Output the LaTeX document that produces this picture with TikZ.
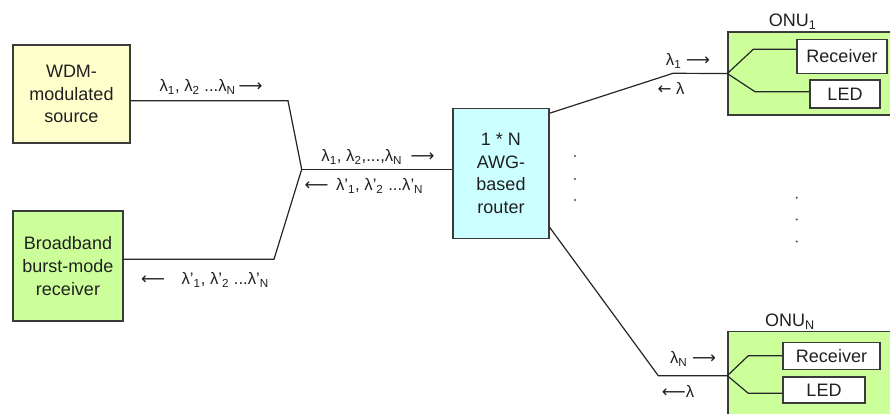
\documentclass[tikz,border=0pt]{standalone}
\usepackage{fontspec}
\setmainfont{Liberation Sans}
\newfontfamily\arrowfont{DejaVu Sans}
\usepackage{xcolor}
\usepackage{tikz}
\usetikzlibrary{arrows.meta,positioning}
\definecolor{SourceBG}  {HTML}{FFFFCC}
\definecolor{GreenBG}   {HTML}{CCFF99}
\definecolor{RouterBG}  {HTML}{CCFFFF}
\definecolor{EdgeGray}  {HTML}{3A3A3A}
\definecolor{LabelText} {HTML}{202020}
\newcommand{\lam}[1]{λ\textsubscript{#1}}
\newcommand{\lamp}[1]{λ'\textsubscript{#1}}
\newcommand{\toR}{{\arrowfont ⟶}}
\newcommand{\toL}{{\arrowfont ⟵}}
\tikzset{
  unitbox/.style={draw=EdgeGray,line width=1pt,align=center,inner sep=0pt,
    font=\fontsize{13.5}{17}\selectfont,text=LabelText},
  partbox/.style={draw=EdgeGray,line width=1pt,fill=white,inner sep=0pt,
    font=\fontsize{13.5}{16}\selectfont,text=LabelText},
  fibre/.style={draw=black!85,line width=0.9pt},
  wavelbl/.style={font=\fontsize{12.5}{15}\selectfont,text=LabelText,inner sep=0pt},
  dotmark/.style={fill=black!70,draw=none}
}
\begin{document}
\begin{tikzpicture}[x=0.75pt,y=-0.75pt]
  \clip (0,0) rectangle (890,414);
  \fill[white] (0,0) rectangle (890,414);

  % head end
  \node[unitbox,fill=SourceBG,minimum width=87.75pt,minimum height=73.5pt]
    (wdm) at (71.5,94) {WDM-\\modulated\\source};
  \node[unitbox,fill=GreenBG,minimum width=82.5pt,minimum height=82.5pt]
    (rx) at (68,266) {Broadband\\burst-mode\\receiver};
  \node[unitbox,fill=RouterBG,minimum width=72pt,minimum height=97.5pt]
    (router) at (501,173.3) {1 * N\\AWG-\\based\\router};

  % ONUs
  \node[unitbox,fill=GreenBG,minimum width=123pt,minimum height=62.25pt]
    (onuA) at (810,73.5) {};
  \node[above=1pt of onuA.north,xshift=-13pt,wavelbl,font=\fontsize{13.5}{16}\selectfont]
    (onuAname) {ONU\textsubscript{1}};
  \node[partbox,minimum width=67.5pt,minimum height=25.5pt]
    (rcvA) at (842,56.3) {Receiver};
  \node[partbox,minimum width=52.5pt,minimum height=21pt]
    (ledA) at (845,94) {LED};

  \node[unitbox,fill=GreenBG,minimum width=123pt,minimum height=66pt]
    (onuB) at (810,375.7) {};
  \node[above=1pt of onuB.north,xshift=-15pt,wavelbl,font=\fontsize{13.5}{16}\selectfont]
    (onuBname) {ONU\textsubscript{N}};
  \node[partbox,minimum width=72.75pt,minimum height=20.25pt]
    (rcvB) at (831.5,355.7) {Receiver};
  \node[partbox,minimum width=61.5pt,minimum height=19.5pt]
    (ledB) at (824,390) {LED};

  % bends of the fibres
  \coordinate (bendSrc) at (288,100.7);
  \coordinate (junc) at (301.7,169.3);
  \coordinate (bendRx) at (274,259.3);
  \coordinate (bendA) at (673,73.3);
  \coordinate (bendB) at (658.3,375.7);
  \coordinate (upA) at (753.3,49.3);
  \coordinate (loA) at (755,91.7);
  \coordinate (upB) at (748.3,355.7);
  \coordinate (loB) at (748.3,393.3);

  \draw[fibre] (wdm.east |- bendSrc) -- (bendSrc) -- (junc)
    -- (bendRx) -- (rx.east |- bendRx);
  \draw[fibre] (junc) -- (router.west |- junc);
  \draw[fibre] (router.51) -- (bendA) -- (onuA.west);
  \draw[fibre] (router.-48) -- (bendB) -- (onuB.west);
  \draw[fibre] (onuA.west) -- (upA) -- (rcvA.west |- upA);
  \draw[fibre] (onuA.west) -- (loA) -- (ledA.west |- loA);
  \draw[fibre] (onuB.west) -- (upB) -- (rcvB.west |- upB);
  \draw[fibre] (onuB.west) -- (loB) -- (ledB.west |- loB);

  % wavelength labels
  \node[wavelbl] (lblSrc) at (211,87) {\lam{1}, \lam{2} ...\lam{N}\,\toR};
  \node[wavelbl] (lblDown) at (378,157) {\lam{1}, \lam{2},...,\lam{N}\enspace\toR};
  \node[wavelbl] (lblUp) at (364,186) {\toL\, \lamp{1}, \lamp{2} ...\lamp{N}};
  \node[wavelbl] (lblRx) at (205,280) {\toL\quad\lamp{1}, \lamp{2} ...\lamp{N}};
  \node[wavelbl] (lblA) at (688,61) {\lam{1} \toR};
  \node[wavelbl] (lblAup) at (671,88) {{\arrowfont ←} λ};
  \node[wavelbl] (lblB) at (693,359) {\lam{N} \toR};
  \node[wavelbl] (lblBup) at (678,391) {\toL λ};

  % ellipsis dots
  \foreach \yy in {156,179,200}
    \fill[dotmark] (575,\yy) circle (1.1);
  \foreach \yy in {197.7,219.5,241.5}
    \fill[dotmark] (796.7,\yy) circle (1.1);
\end{tikzpicture}
\end{document}
